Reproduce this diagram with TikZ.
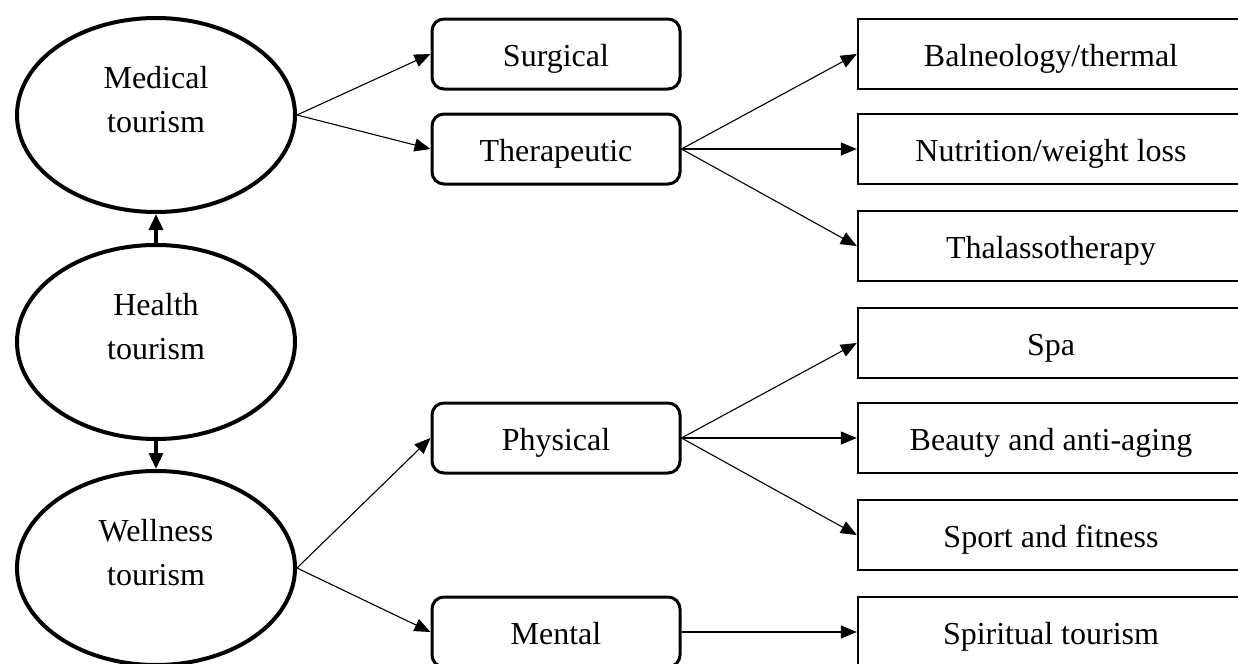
\documentclass[tikz,border=0pt]{standalone}
\usepackage{fontspec}
\setmainfont{Liberation Serif}
\usetikzlibrary{arrows.meta,shapes.geometric}
\definecolor{inkblack}{HTML}{000000}
\tikzset{
  kind/.style={ellipse,draw=inkblack,line width=2pt,minimum width=139pt,minimum height=97pt,align=center,inner sep=0pt,text height=33pt,text depth=16pt,font=\fontsize{16}{22}\selectfont},
  branch/.style={draw=inkblack,rounded corners=6pt,line width=1.5pt,minimum width=124pt,minimum height=35pt,inner sep=0pt,text height=14pt,text depth=2pt,font=\fontsize{16}{20}\selectfont},
  leaf/.style={draw=inkblack,line width=1.2pt,minimum width=193pt,minimum height=35pt,inner sep=0pt,text height=14pt,text depth=2pt,font=\fontsize{16}{20}\selectfont},
  link/.style={-{Triangle[length=8pt,width=6.5pt]},line width=0.55pt,draw=inkblack},
  uplink/.style={-{Triangle[length=8pt,width=7pt]},line width=1.6pt,draw=inkblack}
}
\begin{document}
\begin{tikzpicture}[x=0.5pt,y=-0.5pt]
  \useasboundingbox (0,0) rectangle (1238,664);
  % ellipses on the left
  \node[kind] (medical) at (156,115) {Medical\\tourism};
  \node[kind] (health) at (156,342) {Health\\tourism};
  \node[kind] (wellness) at (156,568) {Wellness\\tourism};
  % middle column
  \node[branch] (surgical) at (556,54) {Surgical};
  \node[branch] (therapeutic) at (556,149) {Therapeutic};
  \node[branch] (physical) at (556,438) {Physical};
  \node[branch] (mental) at (556,632) {Mental};
  % right column
  \node[leaf] (balneo) at (1051,54) {Balneology/thermal};
  \node[leaf] (nutrition) at (1051,149) {Nutrition/weight loss};
  \node[leaf] (thalasso) at (1051,246) {Thalassotherapy};
  \node[leaf] (spa) at (1051,343) {Spa};
  \node[leaf] (beauty) at (1051,438) {Beauty and anti-aging};
  \node[leaf] (sport) at (1051,535) {Sport and fitness};
  \node[leaf] (spiritual) at (1051,632) {Spiritual tourism};
  \draw[uplink] (health.north) -- (medical.south);
  \draw[uplink] (health.south) -- (wellness.north);
  \draw[link] (medical.east) -- (surgical.west);
  \draw[link] (medical.east) -- (therapeutic.west);
  \draw[link] (wellness.east) -- (physical.west);
  \draw[link] (wellness.east) -- (mental.west);
  \draw[link] (therapeutic.east) -- (balneo.west);
  \draw[link] (therapeutic.east) -- (nutrition.west);
  \draw[link] (therapeutic.east) -- (thalasso.west);
  \draw[link] (physical.east) -- (spa.west);
  \draw[link] (physical.east) -- (beauty.west);
  \draw[link] (physical.east) -- (sport.west);
  \draw[link] (mental.east) -- (spiritual.west);
\end{tikzpicture}
\end{document}
